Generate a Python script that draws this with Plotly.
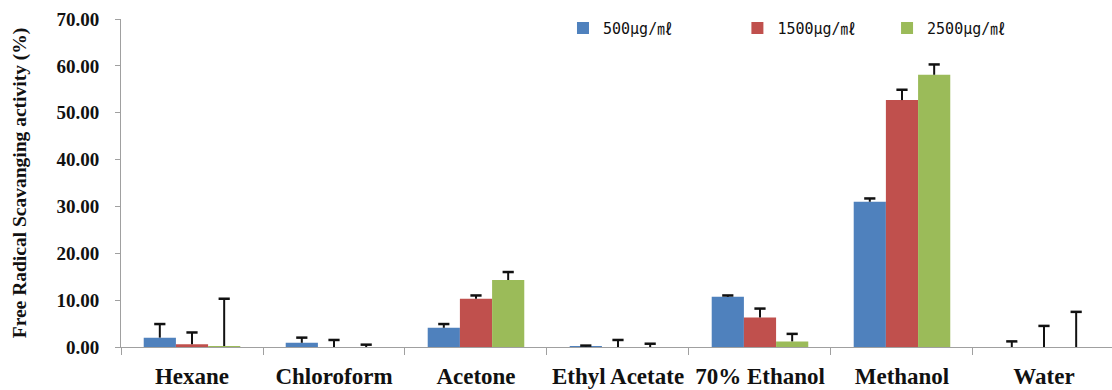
import plotly.graph_objects as go

categories = ["Hexane", "Chloroform", "Acetone", "Ethyl Acetate", "70% Ethanol", "Methanol", "Water"]
series_names = ["500μg/㎖", "1500μg/㎖", "2500μg/㎖"]
colors = ["#4F81BD", "#C0504D", "#9BBB59"]

vals_500 = [2.0, 0.9, 4.1, 0.1, 10.7, 31.0, 0.0]
vals_1500 = [0.6, 0.0, 10.3, 0.0, 6.3, 52.7, 0.0]
vals_2500 = [0.2, 0.0, 14.3, 0.0, 1.2, 58.1, 0.0]

err_500 = [2.9, 1.1, 0.8, 0.2, 0.3, 0.7, 1.2]
err_1500 = [2.5, 1.5, 0.7, 1.5, 1.9, 2.2, 4.5]
err_2500 = [10.1, 0.5, 1.7, 0.7, 1.6, 2.2, 7.5]

y_ticks = [0, 10, 20, 30, 40, 50, 60, 70]

values = [vals_500, vals_1500, vals_2500]
errors = [err_500, err_1500, err_2500]
legend_ids = ["legend", "legend2", "legend3"]
legend_x = [0.446, 0.622, 0.773]

fig = go.Figure()
for i, (name, v, e, c, lg) in enumerate(zip(series_names, values, errors, colors, legend_ids)):
    fig.add_trace(go.Bar(
        x=categories, y=v, name=name, marker_color=c, marker_line_width=0,
        legend=lg, offsetgroup=str(i),
        error_y=dict(type="data", array=e, arrayminus=[0] * len(e), symmetric=False,
                     color="#111111", thickness=2, width=0),
    ))
for i, (v, e) in enumerate(zip(values, errors)):
    tops = [a + b for a, b in zip(v, e)]
    fig.add_trace(go.Scatter(
        x=categories, y=tops, mode="markers", showlegend=False, hoverinfo="skip",
        offsetgroup=str(i),
        marker=dict(symbol="line-ew", size=8, color="#111111",
                    line=dict(color="#111111", width=2.5)),
    ))

legend_common = dict(orientation="h", yanchor="middle", y=0.972, xanchor="left",
                     font=dict(family="DejaVu Sans Mono, Noto Sans CJK KR", size=15, color="#111111"),
                     bgcolor="rgba(0,0,0,0)", itemwidth=30)
layout_legends = {}
for lg, lx in zip(legend_ids, legend_x):
    layout_legends[lg] = dict(legend_common, x=lx)

fig.update_layout(
    width=1112, height=390,
    margin=dict(l=121, r=0, t=19, b=43),
    paper_bgcolor="white", plot_bgcolor="white",
    barmode="group", bargap=0.32, bargroupgap=0,
    scattermode="group", scattergap=0.32,
    showlegend=True,
    **layout_legends,
    xaxis=dict(
        range=[-0.5, 6.479], showline=True, linecolor="#A0A0A0", linewidth=1,
        ticks="outside", tickson="boundaries", ticklen=7, tickcolor="#A0A0A0",
        tickfont=dict(family="Liberation Serif", size=23, color="#111111"),
        ticklabelstandoff=8,
        showgrid=False, zeroline=False,
        tickvals=categories, ticktext=[f"<b>{c}</b>" for c in categories],
    ),
    yaxis=dict(
        range=[0, 70], tickvals=y_ticks, ticktext=[f"<b>{t:.2f}</b>" for t in y_ticks],
        showline=True, linecolor="#A0A0A0", linewidth=1,
        ticks="outside", ticklen=5, tickcolor="#A0A0A0",
        tickfont=dict(family="Liberation Serif", size=19, color="#111111"),
        ticklabelstandoff=12,
        showgrid=False, zeroline=False,
        title=dict(text="<b>Free Radical Scavanging activity (%)</b>",
                   font=dict(family="Liberation Serif", size=19.5, color="#111111"),
                   standoff=24),
    ),
)

fig.write_html("out.html")
